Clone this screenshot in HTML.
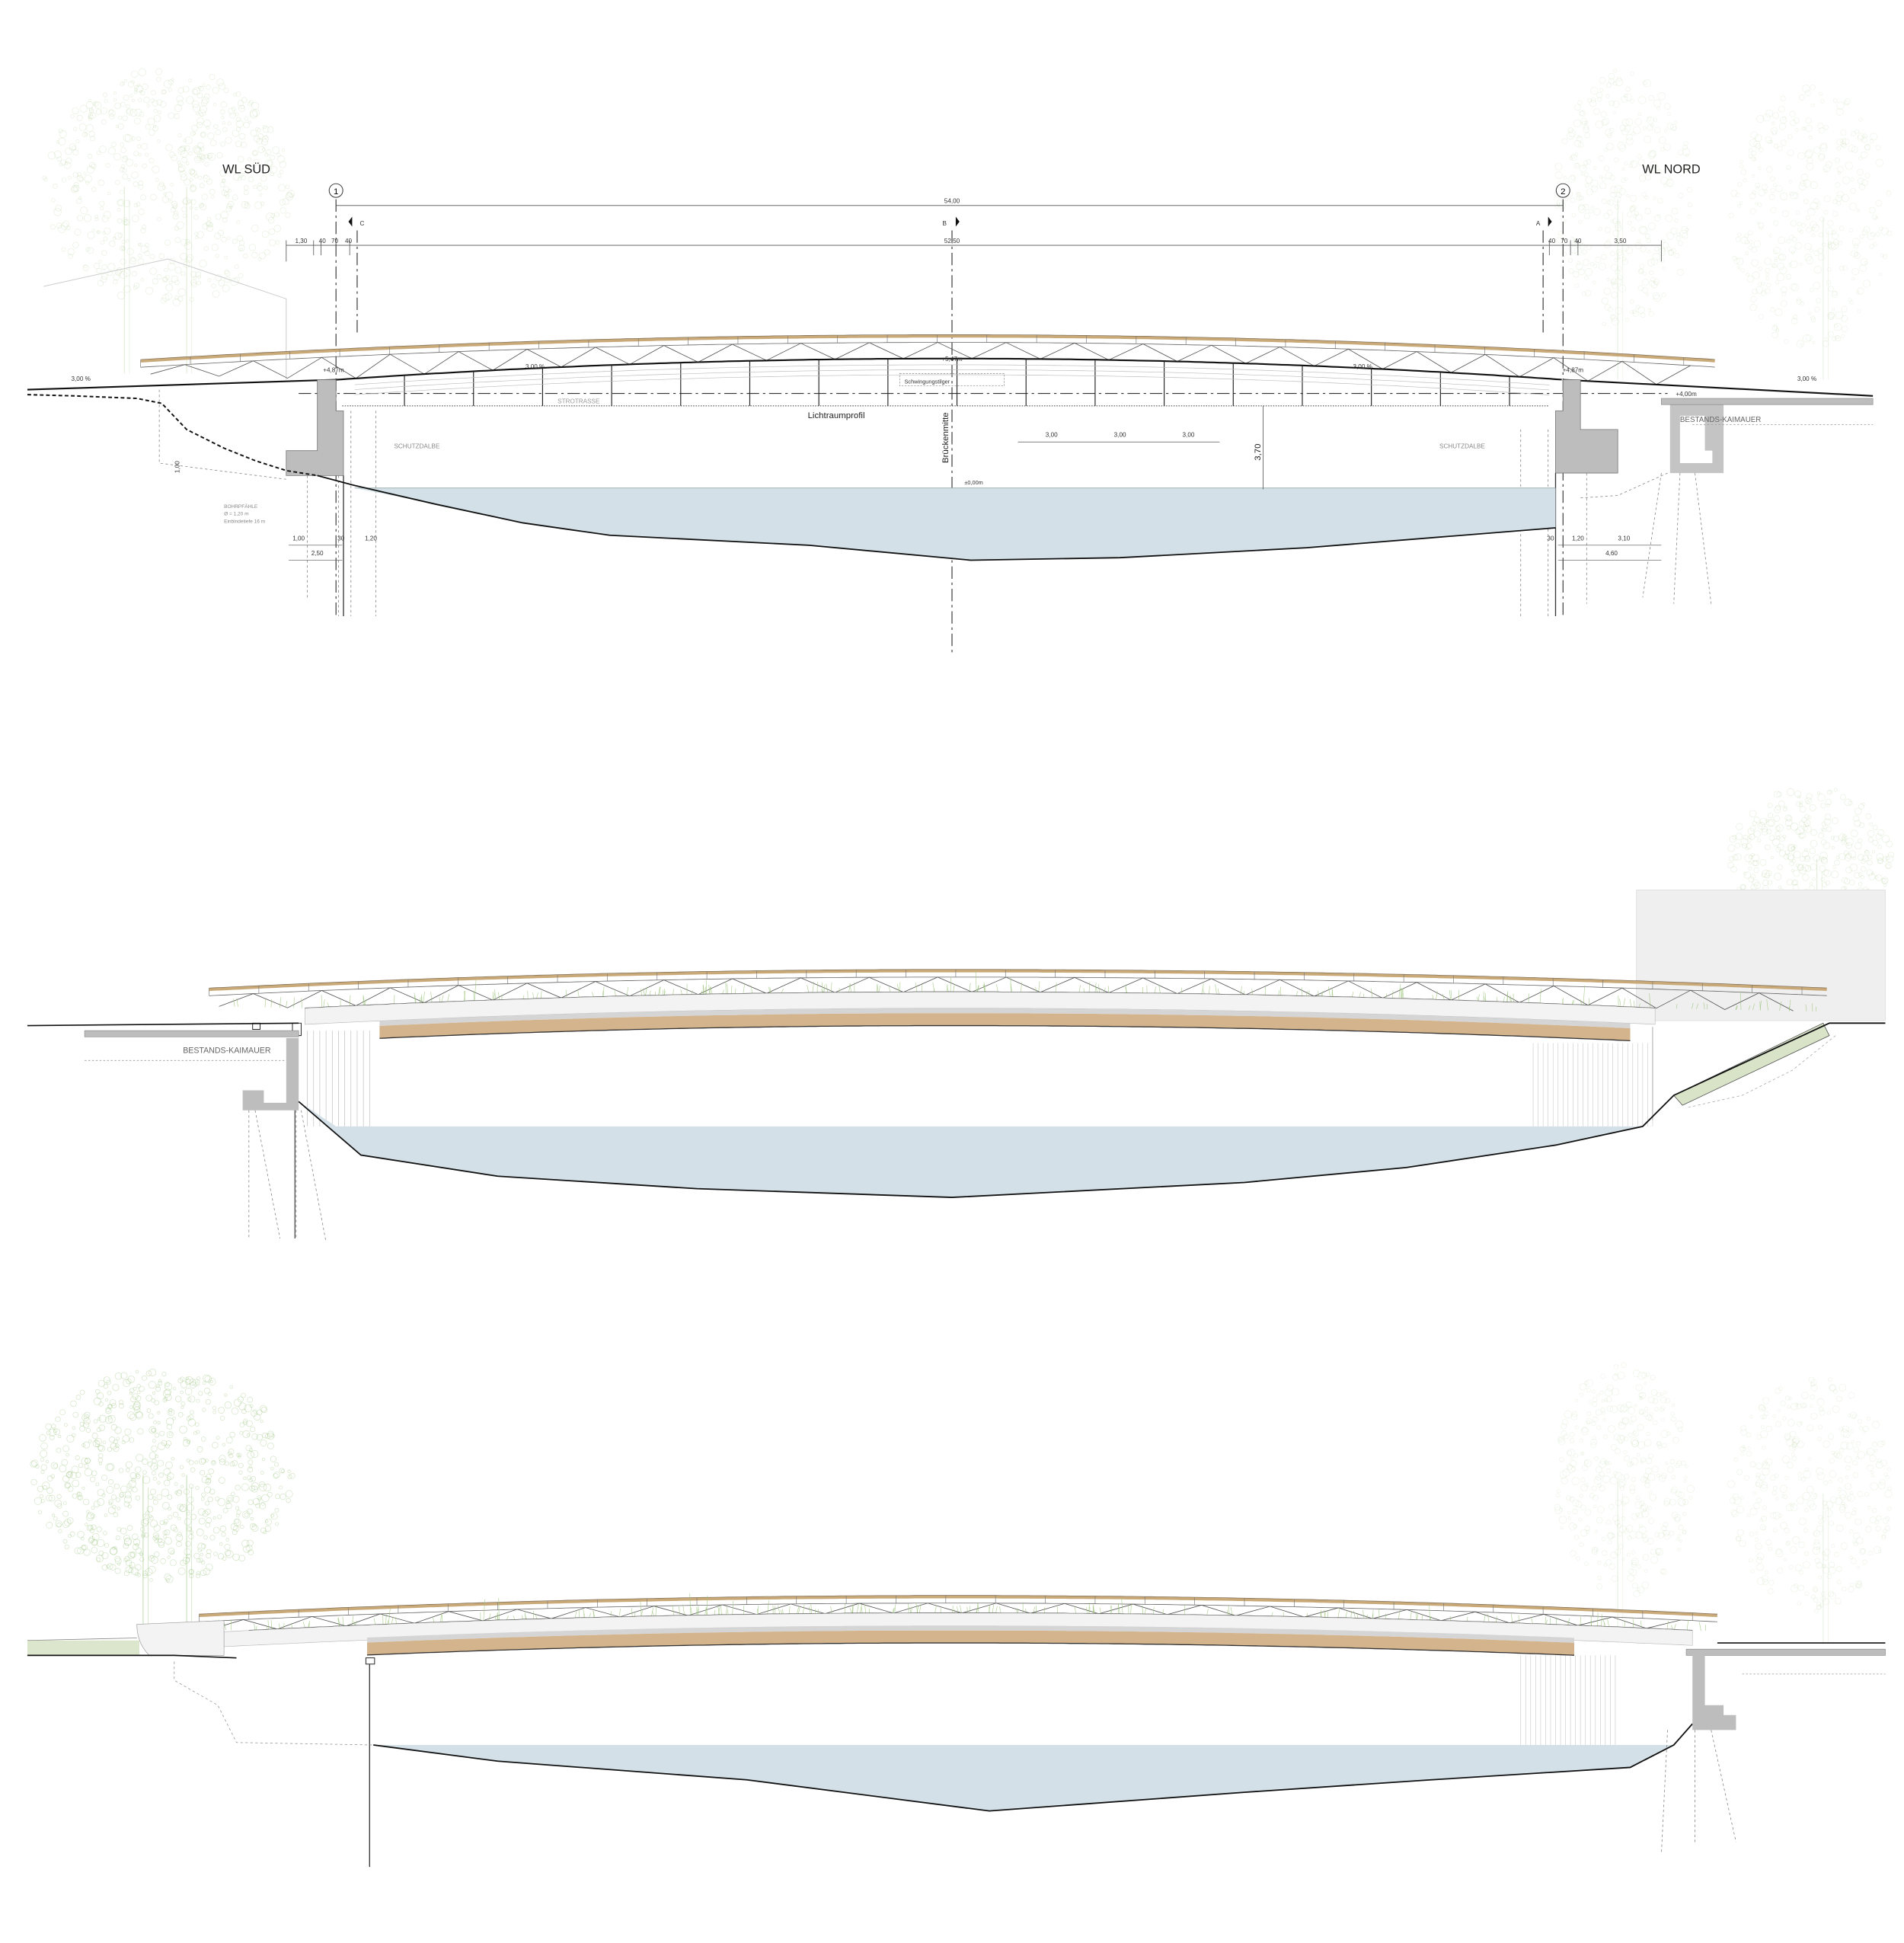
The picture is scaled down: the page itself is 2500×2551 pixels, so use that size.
<!DOCTYPE html>
<html><head><meta charset="utf-8"><style>
html,body{margin:0;padding:0;background:#fff}
svg{display:block}
text{font-family:"Liberation Sans",sans-serif}
</style></head><body>
<svg id="s" xmlns="http://www.w3.org/2000/svg" width="2500" height="2551" viewBox="0 0 1530 1561">
<rect width="1530" height="1561" fill="#fff"/>
<g id="trees"></g>
<polyline points="35,230 135,208 230,240 230,305" fill="none" stroke="#ccc" stroke-width="0.6"/>
<rect x="1315" y="715" width="200" height="105" fill="#efefef" stroke="#ddd" stroke-width="0.5"/>

<!-- ============ SECTION 1 ============ -->
<text x="198" y="139" font-size="10" text-anchor="middle" fill="#222">WL SÜD</text>
<text x="1343" y="139" font-size="10" text-anchor="middle" fill="#222">WL NORD</text>
<circle cx="270" cy="153" r="5.5" fill="#fff" stroke="#333" stroke-width="0.6"/><text x="270" y="156" font-size="7" text-anchor="middle">1</text>
<circle cx="1256" cy="153" r="5.5" fill="#fff" stroke="#333" stroke-width="0.6"/><text x="1256" y="156" font-size="7" text-anchor="middle">2</text>
<g stroke="#333" stroke-width="0.7" stroke-dasharray="10,3,2,3" fill="none">
<line x1="270" y1="160" x2="270" y2="495"/><line x1="1256" y1="160" x2="1256" y2="495"/>
<line x1="765" y1="185" x2="765" y2="525"/>
<line x1="287" y1="185" x2="287" y2="270"/><line x1="1240" y1="185" x2="1240" y2="270"/>
<line x1="240" y1="316" x2="1340" y2="316"/>
</g>
<g stroke="#555" stroke-width="0.5">
<line x1="270" y1="165" x2="1256" y2="165"/>
<line x1="230" y1="197" x2="1335" y2="197"/>
<line x1="230" y1="193" x2="230" y2="210"/><line x1="252" y1="193" x2="252" y2="205"/><line x1="258" y1="193" x2="258" y2="205"/><line x1="270" y1="193" x2="270" y2="205"/><line x1="281" y1="193" x2="281" y2="205"/>
<line x1="1245" y1="193" x2="1245" y2="205"/><line x1="1262" y1="193" x2="1262" y2="205"/><line x1="1268" y1="193" x2="1268" y2="205"/><line x1="1335" y1="193" x2="1335" y2="210"/>
</g>
<g font-size="5" fill="#333" text-anchor="middle">
<text x="765" y="163">54,00</text><text x="765" y="195">52,50</text>
<text x="242" y="195">1,30</text><text x="259" y="195">40</text><text x="269" y="195">70</text><text x="280" y="195">40</text>
<text x="1247" y="195">40</text><text x="1257" y="195">70</text><text x="1268" y="195">40</text><text x="1302" y="195">3,50</text>
<text x="291" y="181">C</text><text x="759" y="181">B</text><text x="1236" y="181">A</text>
</g>
<polygon points="283,174 283,182 280,178" fill="#111"/><polygon points="768,174 768,182 771,178" fill="#111"/><polygon points="1244,174 1244,182 1247,178" fill="#111"/>

<g id="b1"></g>
<path d="M255,305 L270,305 L270,330 L276,330 L276,382 L230,382 L230,362 L255,362 Z" fill="#bdbdbd" stroke="#777" stroke-width="0.5"/>
<path d="M1250,330 L1256,330 L1256,305 L1270,305 L1270,345 L1300,345 L1300,380 L1250,380 Z" fill="#bdbdbd" stroke="#777" stroke-width="0.5"/>
<path d="M1342,325 L1385,325 L1385,380 L1342,380 Z M1350,334 L1350,372 L1376,372 L1376,362 L1370,362 L1370,334 Z" fill="#c4c4c4" fill-rule="evenodd"/>
<rect x="1335" y="320" width="170" height="5" fill="#bdbdbd" stroke="#888" stroke-width="0.4"/>
<text x="1350" y="339" font-size="6" fill="#666">BESTANDS-KAIMAUER</text>
<line x1="1360" y1="341" x2="1505" y2="341" stroke="#999" stroke-width="0.5" stroke-dasharray="1.5,1.5"/>
<g stroke="#333" stroke-width="0.8"><line x1="276" y1="382" x2="276" y2="495"/><line x1="1250" y1="380" x2="1250" y2="495"/></g>
<g stroke="#888" stroke-width="0.5" stroke-dasharray="2,2" fill="none">
<line x1="282" y1="330" x2="282" y2="495"/><line x1="247" y1="382" x2="247" y2="480"/><line x1="272" y1="382" x2="272" y2="495"/>
<line x1="1244" y1="345" x2="1244" y2="495"/><line x1="1275" y1="380" x2="1275" y2="485"/>
<line x1="1335" y1="380" x2="1320" y2="480"/><line x1="1350" y1="380" x2="1345" y2="485"/><line x1="1362" y1="380" x2="1375" y2="485"/>
<line x1="302" y1="330" x2="302" y2="495"/><line x1="1222" y1="345" x2="1222" y2="495"/>
<polyline points="128,313 128,372 230,385"/>
<polyline points="1270,400 1300,398 1340,380"/>
</g>
<polyline points="22,317 60,318 110,320 130,324 150,345 180,360 205,370 230,378 255,382" fill="none" stroke="#111" stroke-width="1.2" stroke-dasharray="3,2"/>
<path d="M285,392 L1250,392 L1250,424 L1150,432 L1050,440 L900,448 L780,450 L650,438 L490,430 L420,420 L350,405 Z" fill="#d3e0e7"/>
<line x1="285" y1="392" x2="1250" y2="392" stroke="#9aa" stroke-width="0.5"/>
<polyline points="255,382 285,390 350,405 420,420 490,430 650,438 780,450 900,448 1050,440 1150,432 1250,424" fill="none" stroke="#111" stroke-width="1.1"/>
<text x="672" y="336" font-size="7" fill="#222" text-anchor="middle">Lichtraumprofil</text>
<text transform="translate(762,372) rotate(-90)" font-size="7" fill="#222">Brückenmitte</text>
<text x="775" y="389" font-size="4.5" fill="#333">±0,00m</text>
<line x1="1015" y1="326" x2="1015" y2="393" stroke="#555" stroke-width="0.5"/>
<text transform="translate(1013,370) rotate(-90)" font-size="7" fill="#222">3,70</text>
<line x1="818" y1="355" x2="980" y2="355" stroke="#555" stroke-width="0.5"/>
<g font-size="5" fill="#333" text-anchor="middle"><text x="845" y="351">3,00</text><text x="900" y="351">3,00</text><text x="955" y="351">3,00</text>
<text x="335" y="360" fill="#888">SCHUTZDALBE</text><text x="1175" y="360" fill="#888">SCHUTZDALBE</text>
<text x="465" y="324" fill="#999">STROTRASSE</text>
<text x="268" y="299">+4,87m</text><text x="1264" y="299">+4,87m</text><text x="765" y="290">+5,47m</text>
<text x="1355" y="318">+4,00m</text>
<text x="65" y="306">3,00 %</text><text x="430" y="296">3,00 %</text><text x="1095" y="296">3,00 %</text><text x="1452" y="306">3,00 %</text>
<text x="298" y="434">1,20</text><text x="240" y="434">1,00</text><text x="274" y="434">30</text><text x="255" y="446">2,50</text>
<text x="1268" y="434">1,20</text><text x="1246" y="434">30</text><text x="1305" y="434">3,10</text><text x="1295" y="446">4,60</text>
</g>
<rect x="723" y="300" width="84" height="10" fill="none" stroke="#888" stroke-width="0.4" stroke-dasharray="1.5,1"/>
<text x="745" y="308" font-size="4.5" fill="#333" text-anchor="middle">Schwingungstilger</text>
<g font-size="4" fill="#888"><text x="180" y="408">BOHRPFÄHLE</text><text x="180" y="414">Ø = 1,20 m</text><text x="180" y="420">Einbindetiefe 16 m</text></g>
<text transform="translate(144,380) rotate(-90)" font-size="5" fill="#333">1,00</text>
<line x1="232" y1="438" x2="275" y2="438" stroke="#555" stroke-width="0.4"/><line x1="232" y1="450" x2="275" y2="450" stroke="#555" stroke-width="0.4"/>
<line x1="1252" y1="438" x2="1335" y2="438" stroke="#555" stroke-width="0.4"/><line x1="1252" y1="450" x2="1335" y2="450" stroke="#555" stroke-width="0.4"/>

<!-- ============ SECTION 2 ============ -->
<g id="b2"></g>
<rect x="68" y="828" width="172" height="5" fill="#bdbdbd" stroke="#888" stroke-width="0.4"/>
<path d="M230,834 L240,834 L240,892 L195,892 L195,876 L212,876 L212,886 L230,886 Z" fill="#bdbdbd"/>
<text x="147" y="846" font-size="6.5" fill="#666">BESTANDS-KAIMAUER</text>
<line x1="68" y1="852" x2="230" y2="852" stroke="#999" stroke-width="0.5" stroke-dasharray="1.5,1.5"/>
<g stroke="#888" stroke-width="0.5" stroke-dasharray="2,2"><line x1="200" y1="892" x2="200" y2="995"/><line x1="205" y1="892" x2="225" y2="995"/><line x1="238" y1="892" x2="238" y2="995"/><line x1="242" y1="892" x2="262" y2="998"/></g>
<line x1="237" y1="892" x2="237" y2="995" stroke="#333" stroke-width="0.7"/>
<path d="M240,885 L290,928 L400,945 L560,955 L765,962 L1000,950 L1130,938 L1250,920 L1320,905 L270,905 Z" fill="#d3e0e7"/>
<path d="M1345,880 L1465,822 L1470,832 L1352,888 Z" fill="#d8e3c8" stroke="#555" stroke-width="0.5"/>
<polyline points="22,824 240,822" fill="none" stroke="#111" stroke-width="1"/>
<polyline points="240,885 290,928 400,945 560,955 765,962 1000,950 1130,938 1250,920 1320,905 1345,880 1470,822 1515,822" fill="none" stroke="#111" stroke-width="1.1"/>
<polyline points="1475,832 1440,860 1400,880 1355,890" fill="none" stroke="#aaa" stroke-width="0.5" stroke-dasharray="2,2"/>

<!-- ============ SECTION 3 ============ -->
<g id="b3"></g>
<rect x="22" y="1318" width="90" height="12" fill="#dbe6cc"/>
<polyline points="22,1330 140,1330 190,1332" fill="none" stroke="#111" stroke-width="1"/>
<polyline points="22,1318 110,1316" fill="none" stroke="#888" stroke-width="0.5"/>
<path d="M300,1402 L1345,1402 L1310,1420 L1150,1430 L1000,1440 L795,1455 L600,1430 L400,1415 Z" fill="#d3e0e7"/>
<polyline points="300,1402 400,1415 600,1430 795,1455 1000,1440 1150,1430 1310,1420 1345,1402 1360,1385" fill="none" stroke="#111" stroke-width="1.1"/>
<line x1="297" y1="1333" x2="297" y2="1500" stroke="#333" stroke-width="0.8"/>
<rect x="294" y="1332" width="7" height="5" fill="#fff" stroke="#222" stroke-width="0.6"/>
<polyline points="140,1335 140,1350 175,1370 190,1400 300,1402" fill="none" stroke="#999" stroke-width="0.5" stroke-dasharray="2,2"/>
<rect x="1355" y="1325" width="160" height="5" fill="#bdbdbd" stroke="#888" stroke-width="0.4"/>
<path d="M1360,1328 L1370,1328 L1370,1370 L1385,1370 L1385,1378 L1395,1378 L1395,1390 L1360,1390 Z" fill="#bdbdbd"/>
<polyline points="1380,1320 1515,1320" fill="none" stroke="#111" stroke-width="1"/>
<line x1="1400" y1="1345" x2="1515" y2="1345" stroke="#999" stroke-width="0.5" stroke-dasharray="1.5,1.5"/>
<g stroke="#888" stroke-width="0.5" stroke-dasharray="2,2"><line x1="1340" y1="1390" x2="1335" y2="1490"/><line x1="1362" y1="1390" x2="1362" y2="1480"/><line x1="1375" y1="1390" x2="1395" y2="1480"/></g>
</svg>
<script>
(function(){
var NS="http://www.w3.org/2000/svg";
function el(p,t,a){var e=document.createElementNS(NS,t);for(var k in a)e.setAttribute(k,a[k]);p.appendChild(e);return e;}
var seed=7;function rnd(){seed=(seed*16807)%2147483647;return seed/2147483647;}
var T=document.getElementById("trees");
function tree(cx,cy,rx,ry,trunkX,baseY,col,n,op){
 for(var i=0;i<n;i++){var a=rnd()*6.283,r=Math.sqrt(rnd());
  el(T,"circle",{cx:cx+Math.cos(a)*rx*r,cy:cy+Math.sin(a)*ry*r,r:1+rnd()*2,fill:"none",stroke:col,"stroke-width":0.4,opacity:op});}
 trunkX.forEach(function(x){el(T,"line",{x1:x,y1:cy,x2:x,y2:baseY,stroke:col,"stroke-width":0.8,opacity:op});
  el(T,"line",{x1:x+4,y1:cy+10,x2:x+4,y2:baseY,stroke:col,"stroke-width":0.5,opacity:op});});
}
tree(135,150,100,95,[150,100],300,"#b9d3a3",600,0.35);
tree(1305,160,55,105,[1300],305,"#c3d9b0",350,0.3);
tree(1455,175,65,105,[1465],305,"#c3d9b0",350,0.3);
tree(1455,690,65,60,[1460],790,"#b9d3a3",350,0.35);
tree(130,1185,105,85,[115,150],1320,"#a3c98a",700,0.5);
tree(1305,1190,55,95,[1300],1320,"#c3d9b0",350,0.3);
tree(1455,1200,65,95,[1465],1320,"#c3d9b0",350,0.3);
function bridge(g,x0,x1,rTop,rMid,rEnd,dMid,dEnd,dx0,dx1,opts){
 var G=document.getElementById(g);
 function R(x){var t=(x-765)/(x<765?765-x0:x1-765);return rMid+(rEnd-rMid)*t*t;}
 function D(x){var t=(x-765)/(x<765?765-dx0:dx1-765);return dMid+(dEnd-dMid)*t*t;}
 var p="",i,x;
 for(x=x0;x<=x1;x+=5){p+=(p?" L":"M")+x+","+R(x).toFixed(1);}
 el(G,"path",{d:p,fill:"none",stroke:"#c9a978","stroke-width":2.4});
 el(G,"path",{d:p,fill:"none",stroke:"#7a6a55","stroke-width":0.4,transform:"translate(0,-1.2)"});
 var p2="";for(x=x0;x<=x1;x+=5){p2+=(p2?" L":"M")+x+","+(R(x)+5).toFixed(1);}
 el(G,"path",{d:p2,fill:"none",stroke:"#666","stroke-width":0.5});
 var z="";var bx0=x0+8,bx1=x1-8;var k=0;
 function Dt(x){return x<dx0?D(dx0)+(x-dx0)*opts.sl:(x>dx1?D(dx1)+(x-dx1)*opts.sr:D(x));}
 for(x=bx0;x<=bx1;x+=27.5,k++){var y=(k%2==0)?Dt(x):R(x)+5;z+=(z?" L":"M")+x.toFixed(1)+","+y.toFixed(1);}
 el(G,"path",{d:z,fill:"none",stroke:"#555","stroke-width":0.5});
 for(x=x0;x<=x1;x+=40){el(G,"line",{x1:x,y1:R(x)-1,x2:x,y2:R(x)+5,stroke:"#777","stroke-width":0.4});}
 if(opts.grass){for(i=0;i<220;i++){x=bx0+rnd()*(bx1-bx0);var b=Dt(x);el(G,"line",{x1:x,y1:b,x2:x+(rnd()-0.5)*3,y2:b-3-rnd()*(rnd()<0.1?15:6),stroke:"#9cc47a","stroke-width":0.4,opacity:0.8});}}
 var d="";for(x=dx0;x<=dx1;x+=5){d+=(d?" L":"M")+x+","+D(x).toFixed(1);}
 el(G,"path",{d:d,fill:"none",stroke:"#111","stroke-width":opts.deckW||1.3});
 return {R:R,D:D};
}
var b1=bridge("b1",113,1380,0,270,290,288,305,270,1256,{sl:0.03,sr:0.05});
var G1=document.getElementById("b1");
el(G1,"polyline",{points:"22,313 270,305",fill:"none",stroke:"#111","stroke-width":1.3});
el(G1,"polyline",{points:"1256,305 1505,318",fill:"none",stroke:"#111","stroke-width":1.3});
el(G1,"line",{x1:275,y1:326,x2:1245,y2:326,stroke:"#444","stroke-width":0.6,"stroke-dasharray":"1,1"});
for(var x=325;x<1245;x+=55.5){el(G1,"line",{x1:x,y1:b1.D(x),x2:x,y2:326,stroke:"#222","stroke-width":0.7});}
for(var j=0;j<3;j++){var dd="";for(x=285;x<=1245;x+=10){dd+=(dd?" L":"M")+x+","+(b1.D(x)+5+j*4).toFixed(1);}el(G1,"path",{d:dd,fill:"none",stroke:"#bbb","stroke-width":0.4});}
var b2=bridge("b2",168,1470,0,780,795,797,810,245,1330,{grass:1,sl:0.02,sr:0.02,deckW:0.8});
var G2=document.getElementById("b2");
function band(G,D,x0,x1,o1,o2,fill,stroke){var a="",x;for(x=x0;x<=x1;x+=5){a+=(a?" L":"M")+x+","+(D(x)+o1).toFixed(1);}for(x=x1;x>=x0;x-=5){a+=" L"+x+","+(D(x)+o2).toFixed(1);}el(G,"path",{d:a+"Z",fill:fill,stroke:stroke||"none","stroke-width":0.4});}
band(G2,b2.D,245,1330,0,13,"#f3f3f3","#bbb");
band(G2,b2.D,305,1310,13,17,"#d5d5d5");
band(G2,b2.D,305,1310,17,27,"#d4b48d");
var dl="";for(x=305;x<=1310;x+=5){dl+=(dl?" L":"M")+x+","+(b2.D(x)+27).toFixed(1);}el(G2,"path",{d:dl,fill:"none",stroke:"#333","stroke-width":0.8});
for(x=247;x<300;x+=5){el(G2,"line",{x1:x,y1:828,x2:x,y2:905,stroke:"#bbb","stroke-width":0.4});}
for(x=1232;x<1330;x+=4){el(G2,"line",{x1:x,y1:838,x2:x,y2:905,stroke:"#ccc","stroke-width":0.4});}
el(G2,"line",{x1:1328,y1:825,x2:1328,y2:900,stroke:"#999","stroke-width":0.5});
el(G2,"rect",{x:203,y:822,width:6,height:5,fill:"#fff",stroke:"#222","stroke-width":0.6});
el(G2,"path",{d:"M235,822 L242,822 L242,832 L235,832 Z",fill:"#fff",stroke:"#222","stroke-width":0.6});
var b3=bridge("b3",160,1380,0,1283,1298,1296,1310,200,1360,{grass:1,sl:0.02,sr:0.02,deckW:0.8});
var G3=document.getElementById("b3");
band(G3,b3.D,180,1360,0,12,"#f3f3f3","#bbb");
band(G3,b3.D,295,1265,10,14,"#d5d5d5");
band(G3,b3.D,295,1265,14,24,"#d4b48d");
var d3="";for(x=295;x<=1265;x+=5){d3+=(d3?" L":"M")+x+","+(b3.D(x)+24).toFixed(1);}el(G3,"path",{d:d3,fill:"none",stroke:"#333","stroke-width":0.8});
for(x=1222;x<1300;x+=4){el(G3,"line",{x1:x,y1:1330,x2:x,y2:1402,stroke:"#ccc","stroke-width":0.4});}
el(G3,"path",{d:"M110,1305 L180,1302 L180,1330 L120,1330 Q110,1320 110,1305 Z",fill:"#f3f3f3",stroke:"#999","stroke-width":0.4});
})();
</script>
</body></html>
